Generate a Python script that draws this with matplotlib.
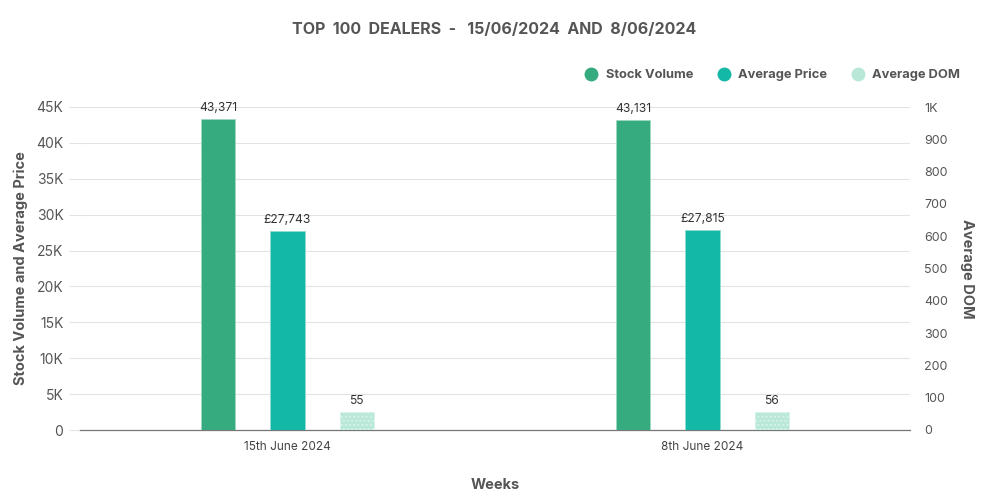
import numpy as np
import matplotlib.pyplot as plt
from matplotlib.ticker import FuncFormatter
from matplotlib.lines import Line2D

plt.rcParams['font.family'] = ['Inter', 'DejaVu Sans']
plt.rcParams['hatch.color'] = '#9ed6c2'

# chart data
weeks = ['15th June 2024', '8th June 2024']
stock_volume = [43371, 43131]
average_price = [27743, 27815]
average_dom = [55, 56]

c_stock = '#36ab80'
c_price = '#14b8a6'
c_dom = '#b9e8d8'
text_grey = '#555555'

fig = plt.figure(figsize=(10, 5), dpi=100)
ax = fig.add_axes([0.08, 0.14, 0.83, 0.646])
ax2 = ax.twinx()

x = np.arange(len(weeks))
w = 0.082
step = 0.167

b1 = ax.bar(x - step, stock_volume, w, color=c_stock, edgecolor='#9ed8c2', linewidth=0.6, zorder=3)
b2 = ax.bar(x, average_price, w, color=c_price, edgecolor='#8fdcd2', linewidth=0.6, zorder=3)
b3 = ax2.bar(x + step, average_dom, w, color=c_dom, edgecolor='#d6f2e9', linewidth=0.6,
             hatch='....', zorder=3)

# value labels above the bars
for rect, v in zip(b1, stock_volume):
    ax.text(rect.get_x() + rect.get_width() / 2, v + 700, f'{v:,}', ha='center', va='bottom',
            fontsize=8.7, color='#333333')
for rect, v in zip(b2, average_price):
    ax.text(rect.get_x() + rect.get_width() / 2, v + 700, f'£{v:,}', ha='center', va='bottom',
            fontsize=8.7, color='#333333')
for rect, v in zip(b3, average_dom):
    ax2.text(rect.get_x() + rect.get_width() / 2, v + 15, f'{v}', ha='center', va='bottom',
             fontsize=8.7, color='#333333')

ax.set_xlim(-0.5, 1.5)
ax.set_ylim(0, 45000)
ax2.set_ylim(0, 1000)
ax.set_yticks(np.arange(0, 45001, 5000))
ax2.set_yticks(np.arange(0, 1001, 100))
ax.yaxis.set_major_formatter(FuncFormatter(lambda v, p: '0' if v == 0 else f'{int(v/1000)}K'))
ax2.yaxis.set_major_formatter(FuncFormatter(lambda v, p: '1K' if v == 1000 else f'{int(v)}'))

ax.set_xticks(x)
ax.set_xticklabels(weeks)
ax.grid(axis='y', color='#e3e3e3', linewidth=0.8, zorder=0)
ax.set_axisbelow(True)

for a in (ax, ax2):
    for s in ('top', 'right', 'left', 'bottom'):
        a.spines[s].set_visible(False)
ax.spines['bottom'].set_visible(True)
ax.spines['bottom'].set_color('#777777')
ax.spines['bottom'].set_linewidth(0.9)

ax.tick_params(axis='y', length=8, color='#e3e3e3', labelsize=10, labelcolor=text_grey, pad=4)
ax2.tick_params(axis='y', length=0, labelsize=9, labelcolor=text_grey, pad=10)
ax.tick_params(axis='x', length=0, labelsize=8.5, labelcolor='#444444', pad=8)

ax.set_ylabel('Stock Volume and Average Price', fontsize=10.5, fontweight='bold', color=text_grey, labelpad=6)
ax2.set_ylabel('Average DOM', fontsize=10.5, fontweight='bold', color=text_grey, rotation=270, labelpad=19)
ax.set_xlabel('Weeks', fontsize=10.5, fontweight='bold', color=text_grey, labelpad=18)

fig.text(0.494, 0.94, 'TOP  100  DEALERS  -   15/06/2024  AND  8/06/2024', ha='center', va='center',
         fontsize=11.5, fontweight='bold', color=text_grey)

handles = [Line2D([], [], marker='o', linestyle='', markersize=9, color=c) for c in (c_stock, c_price, c_dom)]
fig.legend(handles, ['Stock Volume', 'Average Price', 'Average DOM'], loc='center right',
           bbox_to_anchor=(0.972, 0.85), ncol=3, frameon=False, labelcolor=text_grey,
           handletextpad=0.1, columnspacing=1.4, prop={'weight': 'bold', 'size': 9.3})

fig.savefig('out.png', dpi=100)
